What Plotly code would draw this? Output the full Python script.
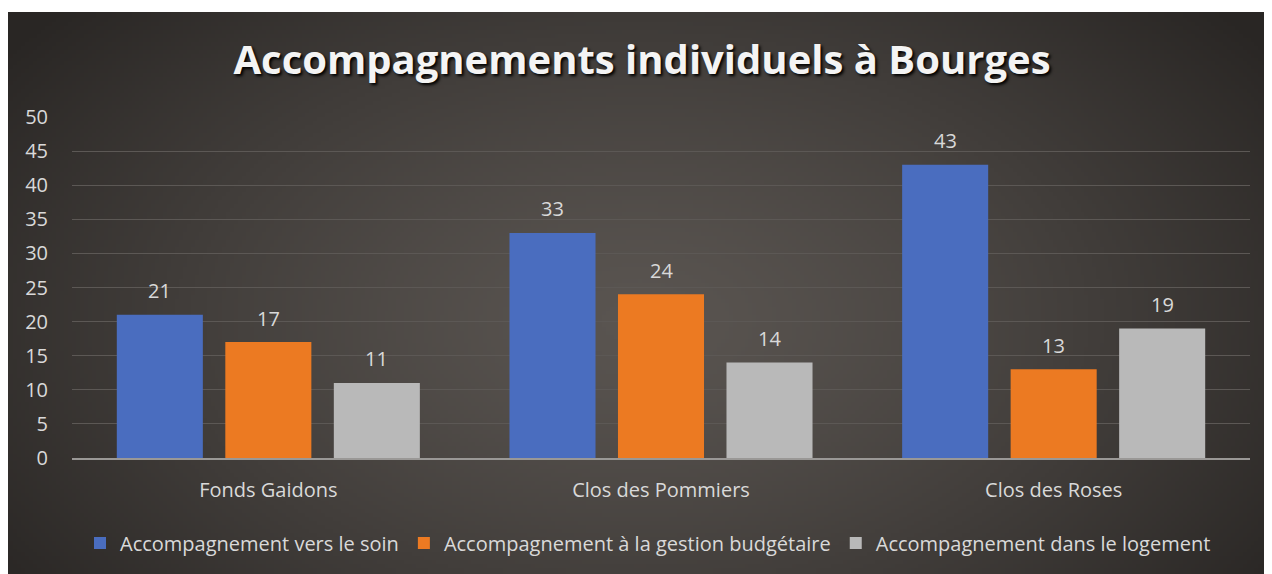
import base64, struct, zlib
import numpy as np
import plotly.graph_objects as go

categories = ["Fonds Gaidons", "Clos des Pommiers", "Clos des Roses"]
series_names = ["Accompagnement vers le soin",
                "Accompagnement à la gestion budgétaire",
                "Accompagnement dans le logement"]
soin = [21, 33, 43]
budget = [17, 24, 13]
logement = [11, 14, 19]
y_ticks = [0, 5, 10, 15, 20, 25, 30, 35, 40, 45, 50]
title_text = "Accompagnements individuels à Bourges"

colors = ["#4a6dbf", "#ec7a22", "#b9b9b9"]
# the page body adds an 8px offset; figure coordinates = screen - 8
W, H = 1264, 566
ML, MR, MT, MB = 64, 22, 109, 116
PW, PH = W - ML - MR, H - MT - MB

def png_uri(arr):
    h, w, _ = arr.shape
    raw = b"".join(b"\x00" + arr[i].tobytes() for i in range(h))
    def chunk(t, d):
        c = struct.pack(">I", len(d)) + t + d
        return c + struct.pack(">I", zlib.crc32(t + d) & 0xffffffff)
    png = b"\x89PNG\r\n\x1a\n" + chunk(b"IHDR", struct.pack(">IIBBBBB", w, h, 8, 2, 0, 0, 0)) \
        + chunk(b"IDAT", zlib.compress(raw, 9)) + chunk(b"IEND", b"")
    return "data:image/png;base64," + base64.b64encode(png).decode()

gw, gh = 320, 142
yy, xx = np.mgrid[0:gh, 0:gw]
u = xx / (gw - 1) - 0.5
v = yy / (gh - 1) - 0.55
t = np.sqrt((u / 0.62) ** 2 + (v / 0.85) ** 2)
t = np.clip(t, 0, 1) ** 1.3
c0 = np.array([0x5a, 0x55, 0x51], float)
c1 = np.array([0x29, 0x26, 0x24], float)
img = (c0[None, None, :] * (1 - t[..., None]) + c1[None, None, :] * t[..., None]).astype(np.uint8)
bg_uri = png_uri(img)

def px_to_paper_x(px):
    return (px - ML) / PW

def px_to_paper_y(py):
    return (H - MB - py) / PH

FONT = "Open Sans"
fig = go.Figure()
all_vals = [soin, budget, logement]
for name, vals, col in zip(series_names, all_vals, colors):
    fig.add_trace(go.Bar(x=categories, y=vals, name=name,
                         marker=dict(color=col, line=dict(width=0))))

bargap, bargroupgap = 0.171, 0.207
slot = PW / len(categories) * (1 - bargap) / 3
for si, vals in enumerate(all_vals):
    for ci, v in enumerate(vals):
        fig.add_annotation(x=categories[ci], y=v, text=str(v), showarrow=False,
                           xshift=(si - 1) * slot, yshift=24,
                           font=dict(family=FONT, size=20, color="#d9d9d9"))

fig.add_layout_image(dict(source=bg_uri, xref="paper", yref="paper",
                          x=px_to_paper_x(-1), y=px_to_paper_y(4),
                          sizex=px_to_paper_x(W) - px_to_paper_x(-1),
                          sizey=px_to_paper_y(4) - px_to_paper_y(H),
                          sizing="stretch", xanchor="left", yanchor="top",
                          layer="below"))

fig.update_layout(
    width=W, height=H,
    margin=dict(l=ML, r=MR, t=MT, b=MB),
    paper_bgcolor="white", plot_bgcolor="rgba(0,0,0,0)",
    barmode="group", bargap=bargap, bargroupgap=bargroupgap,
    title=dict(text=title_text, x=(642 - 8) / W, xref="container", xanchor="center",
               y=1 - 52 / H, yref="container", yanchor="middle",
               font=dict(family=FONT, size=40, weight="bold", color="#f4f4f4",
                         shadow="2px 2px 3px #000000")),
    font=dict(family=FONT, color="#d9d9d9", size=20),
    legend=dict(orientation="h", x=px_to_paper_x(640), xanchor="center",
                y=px_to_paper_y(535), yanchor="middle",
                font=dict(family=FONT, size=20, color="#d9d9d9"),
                bgcolor="rgba(0,0,0,0)", itemwidth=30, traceorder="normal"),
    showlegend=True,
)
fig.update_yaxes(range=[0, 50], tickvals=y_ticks, showgrid=True,
                 gridcolor="#5c5855", gridwidth=1, zeroline=False,
                 showline=False, ticks="", ticklabelstandoff=23,
                 tickfont=dict(family=FONT, size=20, color="#d9d9d9"))
fig.update_xaxes(showgrid=False, showline=True, linecolor="#9a9896", linewidth=2,
                 ticks="", ticklabelstandoff=13,
                 tickfont=dict(family=FONT, size=20, color="#d9d9d9"))

fig.write_html("out.html")
